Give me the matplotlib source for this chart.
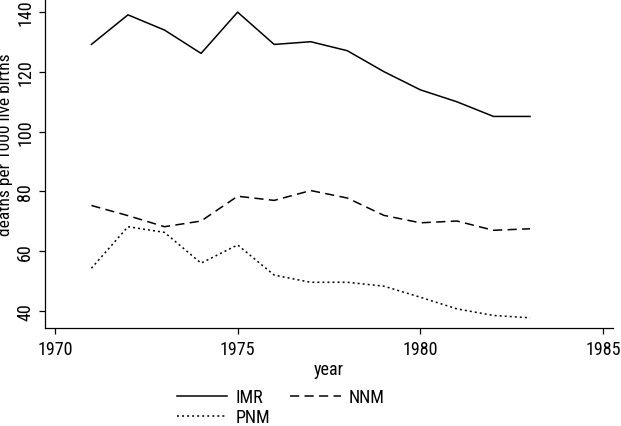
"""Infant, neonatal and post-neonatal mortality, 1971-1983."""

import matplotlib
matplotlib.use("Agg")
import matplotlib.pyplot as plt

plt.rcParams["font.family"] = ["Roboto Condensed", "DejaVu Sans"]
plt.rcParams["font.stretch"] = "condensed"

years = [1971, 1972, 1973, 1974, 1975, 1976, 1977, 1978, 1979, 1980, 1981, 1982, 1983]
imr = [129.2, 139.1, 134.0, 126.2, 140.0, 129.2, 130.1, 127.1, 120.1, 114.0, 110.0, 105.1, 105.1]
nnm = [75.3, 71.9, 68.2, 70.1, 78.4, 77.0, 80.3, 77.8, 72.0, 69.5, 70.1, 67.0, 67.5]
pnm = [54.3, 68.2, 66.3, 56.0, 62.1, 52.0, 49.6, 49.6, 48.3, 44.6, 40.7, 38.5, 37.7]

x_ticks = [1970, 1975, 1980, 1985]
y_ticks = [40, 60, 80, 100, 120, 140]

fs = 13
fig = plt.figure(figsize=(6.21, 4.27), dpi=100)
ax = fig.add_axes([45 / 621, 98 / 427, 568 / 621, 329 / 427])

lw = 1.1
l_imr, = ax.plot(years, imr, color="black", lw=lw, label="IMR")
l_nnm, = ax.plot(years, nnm, color="black", lw=lw, dashes=(6, 3.5), label="NNM")
l_pnm, = ax.plot(years, pnm, color="black", lw=lw, dashes=(1.3, 2.0), label="PNM")

ax.set_xlim(1969.73, 1985.27)
ax.set_ylim(34.3, 144.4)
ax.set_xticks(x_ticks)
ax.set_yticks(y_ticks)
ax.tick_params(direction="out", length=4.3, width=0.9, labelsize=fs, pad=4)
ax.tick_params(axis="y", pad=3.5)
for lbl in ax.get_yticklabels():
    lbl.set_rotation(90)
    lbl.set_va("center")
ax.spines["top"].set_visible(False)
ax.spines["right"].set_visible(False)
ax.spines["left"].set_linewidth(0.9)
ax.spines["bottom"].set_linewidth(0.9)

ax.set_xlabel("year", fontsize=fs, labelpad=2)
ax.set_ylabel("deaths per 1000 live births", fontsize=12.5, va="center")
ax.yaxis.set_label_coords(-39 / 568, (329 - 145) / 329)

# column-wise fill: IMR / PNM in first column, NNM in second
fig.legend([l_imr, l_pnm, l_nnm], ["IMR", "PNM", "NNM"],
           loc="upper center", bbox_to_anchor=(0.452, 0.105), ncol=2,
           frameon=False, fontsize=fs, handlelength=2.8, handletextpad=0.45,
           columnspacing=1.1, labelspacing=0.1, borderaxespad=0)

fig.savefig("out.png", dpi=100)
